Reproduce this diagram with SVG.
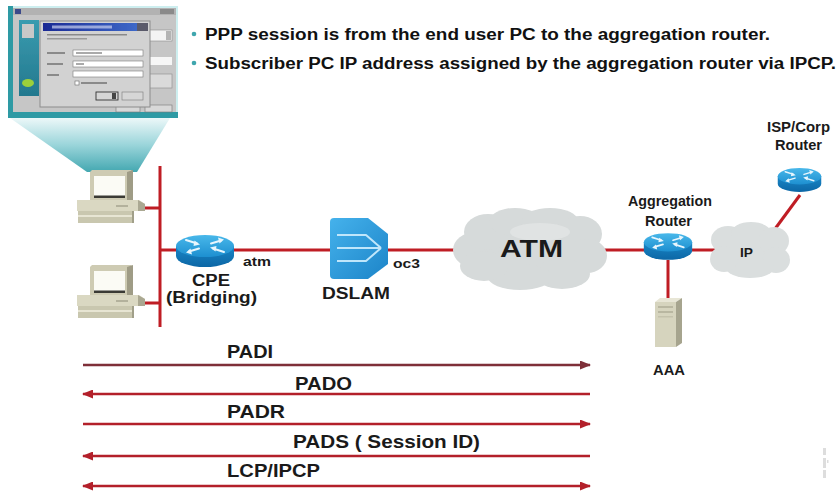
<svg xmlns="http://www.w3.org/2000/svg" xmlns:xlink="http://www.w3.org/1999/xlink" width="840" height="496" viewBox="0 0 840 496">
  <style>
    .lbl { font-family: 'Liberation Sans', Arial, Helvetica, sans-serif; font-weight: bold; fill: #1a1a1a; }
    .hd  { font-family: 'Liberation Sans', Arial, Helvetica, sans-serif; font-weight: bold; font-size: 16px; fill: #111; }
    .bul { fill: #3fa6ae; }
    .link { stroke: #bf1d24; stroke-width: 3; fill: none; }
    .msg { stroke: #b3202a; stroke-width: 2.5; fill: none; }
    .msgd { stroke: #7e2f38; stroke-width: 2.5; fill: none; }
  </style>
  <defs>
    <linearGradient id="rtop" x1="0" y1="0" x2="0" y2="1">
      <stop offset="0" stop-color="#49b8ea"/>
      <stop offset="1" stop-color="#1d8fd0"/>
    </linearGradient>
    <linearGradient id="rbody" x1="0" y1="0" x2="0" y2="1">
      <stop offset="0" stop-color="#1a86c6"/>
      <stop offset="1" stop-color="#0c67a6"/>
    </linearGradient>
    <linearGradient id="dslamG" x1="0" y1="0" x2="1" y2="1">
      <stop offset="0" stop-color="#45b2ec"/>
      <stop offset="1" stop-color="#1c84c8"/>
    </linearGradient>
    <linearGradient id="beam" x1="0" y1="0" x2="0" y2="1">
      <stop offset="0" stop-color="#eaf7f8"/>
      <stop offset="0.5" stop-color="#8fd0d6"/>
      <stop offset="1" stop-color="#2f9ea8"/>
    </linearGradient>
    <linearGradient id="panelG" x1="0" y1="0" x2="0" y2="1">
      <stop offset="0" stop-color="#3a9cb0"/>
      <stop offset="1" stop-color="#23788e"/>
    </linearGradient>
    <linearGradient id="titleG" x1="0" y1="0" x2="1" y2="0">
      <stop offset="0" stop-color="#1b2a94"/>
      <stop offset="1" stop-color="#3d68c8"/>
    </linearGradient>
    <filter id="soft" x="-5%" y="-5%" width="110%" height="110%">
      <feGaussianBlur stdDeviation="0.7"/>
    </filter>
    <filter id="softer" x="-5%" y="-5%" width="110%" height="110%">
      <feGaussianBlur stdDeviation="0.4"/>
    </filter>

    <marker id="hd" markerUnits="userSpaceOnUse" markerWidth="11" markerHeight="9" refX="10" refY="4.5" orient="auto-start-reverse">
      <path d="M0,0 L11,4.5 L0,9 Z" fill="#b3202a"/>
    </marker>
    <marker id="hdd" markerUnits="userSpaceOnUse" markerWidth="11" markerHeight="9" refX="10" refY="4.5" orient="auto-start-reverse">
      <path d="M0,0 L11,4.5 L0,9 Z" fill="#7e2f38"/>
    </marker>

    <!-- Cisco-style router: blue cylinder with four white arrows -->
    <symbol id="router" viewBox="0 0 60 34">
      <path d="M1,12 L1,22 A29,11 0 0 0 59,22 L59,12 Z" fill="url(#rbody)"/>
      <ellipse cx="30" cy="12" rx="29" ry="11" fill="url(#rtop)"/>
      <g stroke="#e8f6fd" stroke-width="2" fill="none" stroke-linecap="round">
        <path d="M11,6 L22,9.5"/>
        <path d="M49,18 L38,14.5"/>
        <path d="M36,9.5 L46,6.5"/>
        <path d="M24,14.5 L14,17.5"/>
      </g>
      <g fill="#e8f6fd">
        <path d="M25,10.5 L19.5,6.5 L18.5,12 Z"/>
        <path d="M35,13.5 L40.5,17.5 L41.5,12 Z"/>
        <path d="M49,5.5 L43,3.5 L44.5,9.5 Z"/>
        <path d="M11,18.5 L17,20.5 L15.5,14.5 Z"/>
      </g>
    </symbol>

    <!-- Desktop PC: monitor on a flat system unit -->
    <symbol id="pc" viewBox="0 0 70 54">
      <polygon points="16,1 55,1 57,3 57,32 14,32 14,3" fill="#cecbb3"/>
      <polygon points="51,3 57,1 57,32 51,33" fill="#9f9c86"/>
      <rect x="18" y="7" width="31" height="20" fill="#fbfbf5"/>
      <rect x="18" y="26.5" width="31" height="2.5" fill="#3a3a34"/>
      <polygon points="1,31 63,31 69,35 69,42 1,42" fill="#dad8c2"/>
      <polygon points="62,31 69,35 69,42 62,42" fill="#aaa892"/>
      <line x1="40" y1="37" x2="52" y2="37" stroke="#8c8a76" stroke-width="1"/>
      <rect x="2" y="42" width="56" height="12" fill="#c9c7af"/>
      <rect x="2" y="46" width="56" height="2" fill="#e7e5d3"/>
      <rect x="56" y="42" width="2" height="12" fill="#a19f89"/>
    </symbol>
  </defs>

  <rect x="0" y="0" width="840" height="496" fill="#ffffff"/>

  <!-- header bullets -->
  <g id="notes">
    <circle class="bul" cx="194" cy="34" r="2.3"/>
    <text class="hd" x="205" y="40" textLength="565" lengthAdjust="spacingAndGlyphs">PPP session is from the end user PC to the aggregation router.</text>
    <circle class="bul" cx="194" cy="63" r="2.3"/>
    <text class="hd" x="205" y="69" textLength="631" lengthAdjust="spacingAndGlyphs">Subscriber PC IP address assigned by the aggregation router via IPCP.</text>
  </g>

  <!-- dial-up dialog screenshot shown above the first PC -->
  <g id="screen">
    <polygon points="10,118 170,118 137,172 87,172" fill="url(#beam)" opacity="0.9"/>
    <g filter="url(#soft)">
      <rect x="8" y="6" width="170" height="112" fill="#cdeeef"/>
      <rect x="8" y="6" width="5" height="112" fill="#2f9aa4"/>
      <rect x="8" y="112" width="170" height="6" fill="#2f9aa4"/>
      <rect x="13" y="8" width="163" height="104" fill="#c6c6c6"/>
      <rect x="13" y="8" width="163" height="7" fill="#b2b2b2"/>
      <rect x="15" y="9" width="6" height="5" fill="#3a4a8a"/>
      <rect x="160" y="9" width="14" height="5" fill="#8a8a8a"/>
      <rect x="19" y="20" width="20" height="76" fill="url(#panelG)"/>
      <rect x="22" y="24" width="12" height="14" fill="#c8c8c8"/>
      <ellipse cx="28" cy="83" rx="6" ry="4" fill="#9bd03a"/>
      <rect x="148" y="30" width="24" height="11" fill="#f4f4f4" stroke="#8a8a8a" stroke-width="0.6"/>
      <rect x="166" y="31" width="5" height="9" fill="#b4b4b4"/>
      <rect x="148" y="57" width="24" height="8" fill="#f6f6f6"/>
      <rect x="148" y="74" width="24" height="14" fill="#dadada" stroke="#8a8a8a" stroke-width="0.6"/>
      <rect x="116" y="105" width="24" height="7" fill="#d8d8d8" stroke="#777" stroke-width="0.6"/>
      <rect x="145" y="105" width="27" height="7" fill="#d8d8d8" stroke="#777" stroke-width="0.6"/>
      <!-- dialog -->
      <rect x="40" y="21" width="110" height="86" fill="#d2d2d2" stroke="#8c8c8c" stroke-width="1"/>
      <rect x="43" y="23" width="94" height="8" fill="url(#titleG)"/>
      <rect x="52" y="25.5" width="60" height="3" fill="#c8d0f0" opacity="0.7"/>
      <rect x="137" y="23" width="11" height="8" fill="#5a5a6a"/>
      <rect x="47" y="34" width="80" height="1.5" fill="#8a8a8a"/>
      <rect x="47" y="38" width="40" height="1.5" fill="#9a9a9a"/>
      <rect x="47" y="52" width="18" height="2" fill="#8a8a8a"/>
      <rect x="47" y="63" width="16" height="2" fill="#8a8a8a"/>
      <rect x="47" y="74" width="12" height="2" fill="#8a8a8a"/>
      <rect x="73" y="50" width="70" height="6" fill="#ffffff" stroke="#7a7a7a" stroke-width="0.6"/>
      <rect x="76" y="52" width="26" height="2" fill="#aaa"/>
      <rect x="73" y="61" width="70" height="6" fill="#ffffff" stroke="#7a7a7a" stroke-width="0.6"/>
      <rect x="76" y="63" width="8" height="2" fill="#aaa"/>
      <rect x="73" y="71" width="70" height="6" fill="#ffffff" stroke="#7a7a7a" stroke-width="0.6"/>
      <rect x="75" y="81" width="4" height="4" fill="#ffffff" stroke="#6a6a6a" stroke-width="0.6"/>
      <rect x="81" y="82" width="26" height="2" fill="#8a8a8a"/>
      <rect x="96" y="92" width="22" height="8" fill="#d6d6d6" stroke="#333" stroke-width="0.9"/>
      <rect x="112" y="93" width="4" height="6" fill="#444"/>
      <rect x="122" y="92" width="21" height="8" fill="#d6d6d6" stroke="#7a7a7a" stroke-width="0.6"/>
    </g>
  </g>

  <!-- connectors -->
  <g id="links">
    <line class="link" x1="160" y1="166" x2="160" y2="327"/>
    <line class="link" x1="142" y1="208" x2="160" y2="208"/>
    <line class="link" x1="142" y1="303" x2="160" y2="303"/>
    <line class="link" x1="160" y1="250" x2="334" y2="250"/>
    <line class="link" x1="386" y1="250" x2="462" y2="250"/>
    <line class="link" x1="598" y1="250" x2="716" y2="250"/>
    <line class="link" x1="668" y1="260" x2="668" y2="300"/>
    <line class="link" x1="772" y1="233" x2="800" y2="195"/>
  </g>

  <g id="pc1"><use href="#pc" x="76" y="169" width="70" height="54"/></g>
  <g id="pc2"><use href="#pc" x="76" y="264" width="70" height="54"/></g>

  <g id="cpe">
    <use href="#router" x="175" y="234" width="60" height="34"/>
    <text class="lbl" x="243" y="266" font-size="13" textLength="28" lengthAdjust="spacingAndGlyphs">atm</text>
    <text class="lbl" x="192" y="286" font-size="16" textLength="38" lengthAdjust="spacingAndGlyphs">CPE</text>
    <text class="lbl" x="166" y="303" font-size="16" textLength="91" lengthAdjust="spacingAndGlyphs">(Bridging)</text>
  </g>

  <g id="dslam">
    <path d="M334,218 L368,218 L388,234 L388,264 L368,279 L334,279 Q330,279 330,275 L330,222 Q330,218 334,218 Z" fill="url(#dslamG)"/>
    <g stroke="#bfe6fb" stroke-width="2" fill="none" stroke-linejoin="round">
      <path d="M337,235 L366,235 L381,248"/>
      <path d="M337,248 L381,248"/>
      <path d="M337,261 L366,261 L381,248"/>
    </g>
    <text class="lbl" x="393" y="268" font-size="12" textLength="27" lengthAdjust="spacingAndGlyphs">oc3</text>
    <text class="lbl" x="322" y="299" font-size="16" textLength="68" lengthAdjust="spacingAndGlyphs">DSLAM</text>
  </g>

  <g id="atm">
    <g fill="#d6dada" filter="url(#softer)">
      <ellipse cx="530" cy="250" rx="62" ry="30"/>
      <ellipse cx="476" cy="250" rx="23" ry="18"/>
      <ellipse cx="488" cy="232" rx="24" ry="18"/>
      <ellipse cx="515" cy="222" rx="26" ry="14"/>
      <ellipse cx="550" cy="221" rx="28" ry="13"/>
      <ellipse cx="580" cy="234" rx="22" ry="18"/>
      <ellipse cx="587" cy="256" rx="20" ry="17"/>
      <ellipse cx="562" cy="274" rx="28" ry="15"/>
      <ellipse cx="520" cy="277" rx="32" ry="13"/>
      <ellipse cx="484" cy="266" rx="24" ry="15"/>
    </g>
    <ellipse cx="540" cy="232" rx="30" ry="9" fill="#e4e7e7" opacity="0.7"/>
    <text class="lbl" x="500" y="257" font-size="23" textLength="63" lengthAdjust="spacingAndGlyphs">ATM</text>
  </g>

  <g id="aggregation">
    <use href="#router" x="643" y="230" width="50" height="33"/>
    <text class="lbl" x="628" y="206" font-size="15" textLength="84" lengthAdjust="spacingAndGlyphs">Aggregation</text>
    <text class="lbl" x="645" y="226" font-size="14" textLength="47" lengthAdjust="spacingAndGlyphs">Router</text>
  </g>

  <g id="ip">
    <g fill="#dadede" filter="url(#softer)">
      <ellipse cx="750" cy="250" rx="32" ry="20"/>
      <ellipse cx="728" cy="240" rx="17" ry="14"/>
      <ellipse cx="751" cy="233" rx="20" ry="11"/>
      <ellipse cx="774" cy="241" rx="15" ry="14"/>
      <ellipse cx="776" cy="260" rx="14" ry="13"/>
      <ellipse cx="750" cy="268" rx="24" ry="10"/>
      <ellipse cx="724" cy="259" rx="14" ry="13"/>
    </g>
    <text class="lbl" x="740" y="257" font-size="12" textLength="13" lengthAdjust="spacingAndGlyphs">IP</text>
  </g>

  <g id="isp">
    <use href="#router" x="777" y="163" width="45" height="34"/>
    <text class="lbl" x="767" y="132" font-size="15" textLength="63" lengthAdjust="spacingAndGlyphs">ISP/Corp</text>
    <text class="lbl" x="775" y="150" font-size="14" textLength="47" lengthAdjust="spacingAndGlyphs">Router</text>
  </g>

  <g id="aaa">
    <polygon points="655,302 676,302 676,347 655,347" fill="#d6d4be"/>
    <polygon points="655,302 660,298 682,298 676,302" fill="#e8e6d6"/>
    <polygon points="676,302 682,298 682,343 676,347" fill="#a6a48e"/>
    <rect x="658" y="306" width="15" height="2" fill="#b9b7a1"/>
    <rect x="658" y="311" width="15" height="2" fill="#b9b7a1"/>
    <rect x="658" y="316" width="15" height="1.5" fill="#c4c2ac"/>
    <text class="lbl" x="653" y="375" font-size="14" textLength="32" lengthAdjust="spacingAndGlyphs">AAA</text>
  </g>

  <!-- PPPoE discovery and PPP negotiation exchange -->
  <g id="messages">
    <line class="msgd" x1="83" y1="365" x2="590" y2="365" marker-end="url(#hdd)"/>
    <line class="msg" x1="590" y1="394" x2="83" y2="394" marker-end="url(#hd)"/>
    <line class="msg" x1="83" y1="424" x2="590" y2="424" marker-end="url(#hd)"/>
    <line class="msg" x1="590" y1="456" x2="83" y2="456" marker-end="url(#hd)"/>
    <line class="msg" x1="83" y1="486" x2="590" y2="486" marker-start="url(#hd)" marker-end="url(#hd)"/>
    <text class="lbl" x="227" y="358" font-size="19" textLength="46" lengthAdjust="spacingAndGlyphs">PADI</text>
    <text class="lbl" x="295" y="390" font-size="19" textLength="57" lengthAdjust="spacingAndGlyphs">PADO</text>
    <text class="lbl" x="227" y="418" font-size="19" textLength="58" lengthAdjust="spacingAndGlyphs">PADR</text>
    <text class="lbl" x="293" y="448" font-size="19" textLength="187" lengthAdjust="spacingAndGlyphs">PADS ( Session ID)</text>
    <text class="lbl" x="227" y="477" font-size="19" textLength="93" lengthAdjust="spacingAndGlyphs">LCP/IPCP</text>
  </g>

  <!-- corner reference mark -->
  <g id="mark" fill="#cfcfcf" opacity="0.7" filter="url(#softer)">
    <rect x="823" y="448" width="3" height="7"/>
    <rect x="823" y="458" width="3" height="10"/>
    <rect x="823" y="470" width="3" height="8"/>
    <rect x="827" y="460" width="1.5" height="3"/>
  </g>
</svg>
